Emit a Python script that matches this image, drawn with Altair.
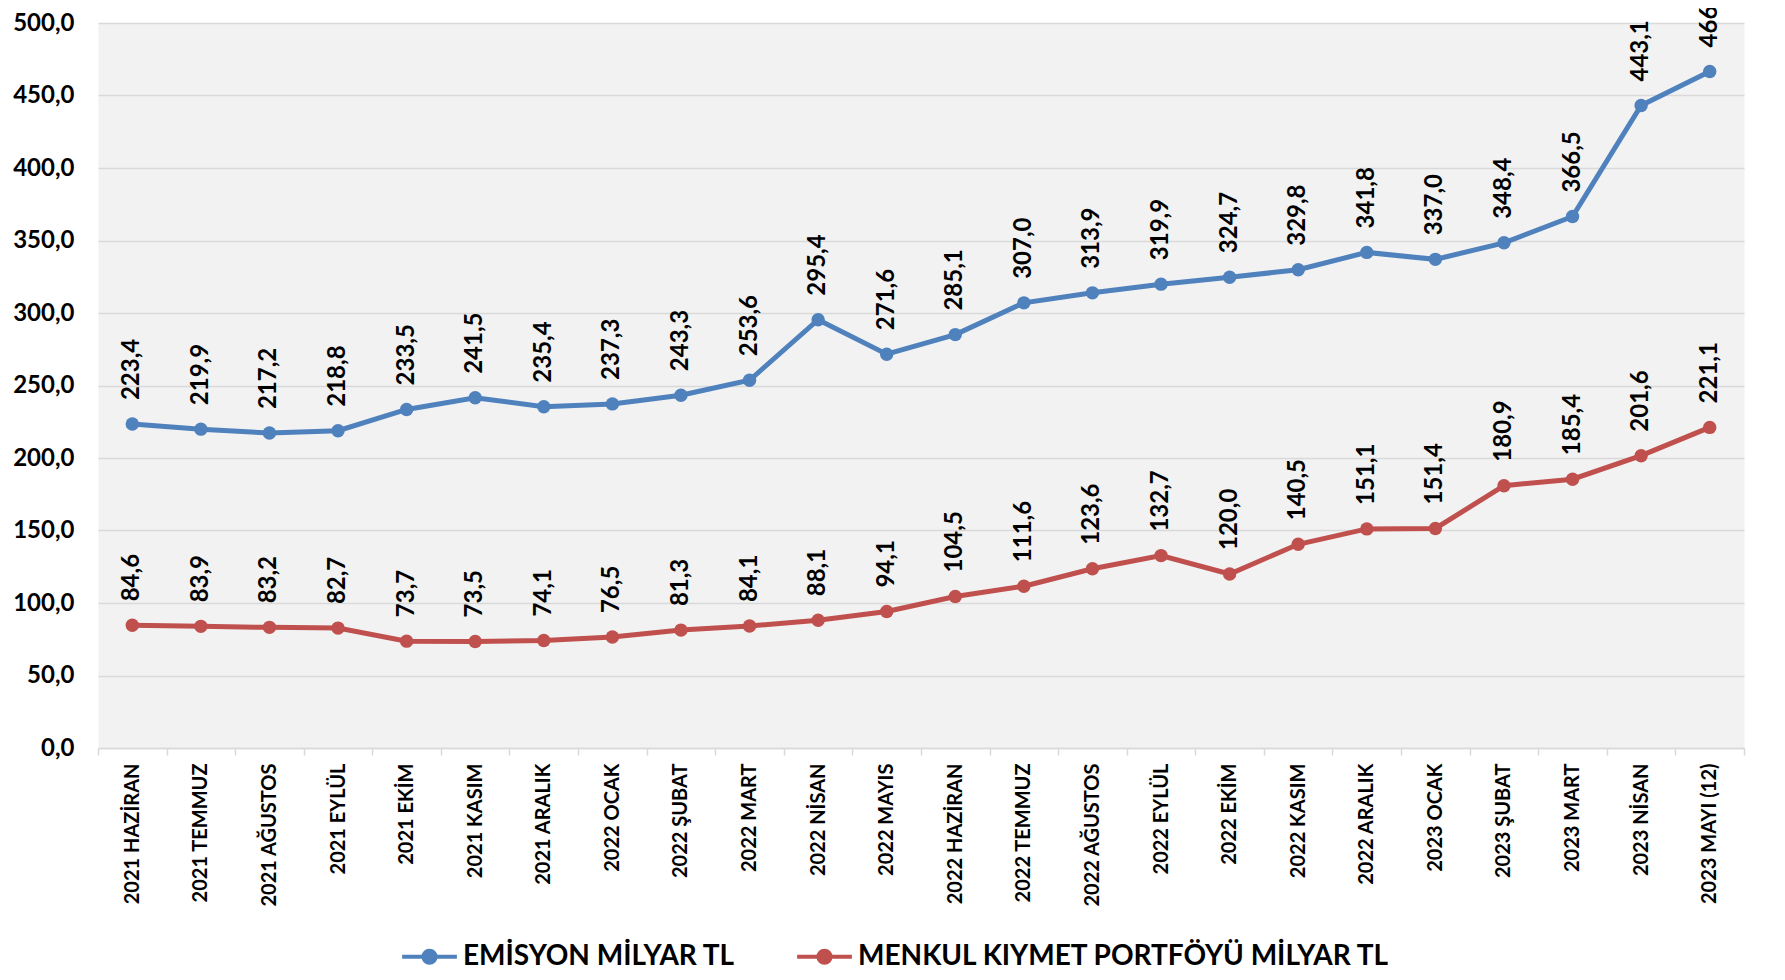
import altair as alt
import pandas as pd

months = [
    "2021 HAZİRAN", "2021 TEMMUZ", "2021 AĞUSTOS", "2021 EYLÜL", "2021 EKİM",
    "2021 KASIM", "2021 ARALIK", "2022  OCAK", "2022 ŞUBAT", "2022 MART",
    "2022 NİSAN", "2022 MAYIS", "2022 HAZİRAN", "2022 TEMMUZ", "2022 AĞUSTOS",
    "2022 EYLÜL", "2022 EKİM", "2022 KASIM", "2022  ARALIK", "2023 OCAK",
    "2023 ŞUBAT", "2023 MART", "2023 NİSAN", "2023 MAYI (12)",
]
emisyon = [223.4, 219.9, 217.2, 218.8, 233.5, 241.5, 235.4, 237.3, 243.3, 253.6,
           295.4, 271.6, 285.1, 307.0, 313.9, 319.9, 324.7, 329.8, 341.8, 337.0,
           348.4, 366.5, 443.1, 466.6]
menkul = [84.6, 83.9, 83.2, 82.7, 73.7, 73.5, 74.1, 76.5, 81.3, 84.1,
          88.1, 94.1, 104.5, 111.6, 123.6, 132.7, 120.0, 140.5, 151.1, 151.4,
          180.9, 185.4, 201.6, 221.1]
series_names = ["EMİSYON MİLYAR TL", "MENKUL KIYMET PORTFÖYÜ MİLYAR TL"]
colors = ["#4F81BD", "#C0504D"]
y_ticks = [0, 50, 100, 150, 200, 250, 300, 350, 400, 450, 500]

rows = []
for i, m in enumerate(months):
    rows.append({"ay": m, "seri": series_names[0], "deger": emisyon[i]})
    rows.append({"ay": m, "seri": series_names[1], "deger": menkul[i]})
df = pd.DataFrame(rows)

FONT = "Lato"
LEGEND_SYMBOL = "M-1,0L1,0M-0.22,0A0.22,0.22,0,1,1,0.22,0A0.22,0.22,0,1,1,-0.22,0Z"

x_enc = alt.X(
    "ay:N", sort=months,
    scale=alt.Scale(type="band", paddingInner=0, paddingOuter=0),
    axis=alt.Axis(
        title=None, labelAngle=270, labelAlign="right", labelBaseline="middle",
        tickBand="extent", tickColor="#D9D9D9", tickSize=7, tickWidth=1.5,
        domainColor="#D9D9D9", domainWidth=1.5, labelFont=FONT,
        labelFontWeight="bold", labelFontSize=20, labelPadding=8,
        labelColor="black", grid=False, labelLimit=0,
    ),
)
y_enc = alt.Y(
    "deger:Q",
    scale=alt.Scale(domain=[0, 500], nice=False, zero=True),
    axis=alt.Axis(
        title=None, values=y_ticks, domain=False, ticks=False,
        gridColor="#D9D9D9", gridWidth=1.5, labelFont=FONT,
        labelFontWeight="bold", labelFontSize=24, labelPadding=24,
        labelColor="black",
        labelExpr="replace(format(datum.value, '.1f'), '.', ',')",
    ),
)
color_scale = alt.Scale(domain=series_names, range=colors)
legend = alt.Legend(
    title=None, orient="none", legendX=302, legendY=904, direction="horizontal",
    symbolType=LEGEND_SYMBOL, symbolSize=3000, symbolStrokeWidth=4,
    labelFont=FONT, labelFontSize=28, labelFontWeight="bold", labelColor="black",
    columnPadding=53, labelOffset=4, padding=0, labelLimit=1000,
)
color_enc = alt.Color("seri:N", scale=color_scale, legend=legend)

base = alt.Chart(df)
lines = base.mark_line(strokeWidth=5).encode(x=x_enc, y=y_enc, color=color_enc)
points = base.mark_point(filled=True, size=180, opacity=1).encode(
    x=x_enc, y=y_enc, color=color_enc,
)
labels = base.transform_calculate(
    lbl="replace(format(datum.deger, '.1f'), '.', ',')"
).mark_text(
    angle=270, align="left", baseline="middle", dx=24,
    font=FONT, fontSize=24, fontWeight="bold", color="black",
).encode(x=x_enc, y=y_enc, text="lbl:N")

chart = alt.layer(lines, points, labels).properties(
    width=1646, height=725,
    autosize=alt.AutoSizeParams(type="none"),
    padding={"left": 90, "top": 15, "right": 30, "bottom": 222},
    background="white",
).configure_view(fill="#F2F2F2", stroke="transparent")

chart.save("out.html", embed_options={"renderer": "svg", "actions": False})
